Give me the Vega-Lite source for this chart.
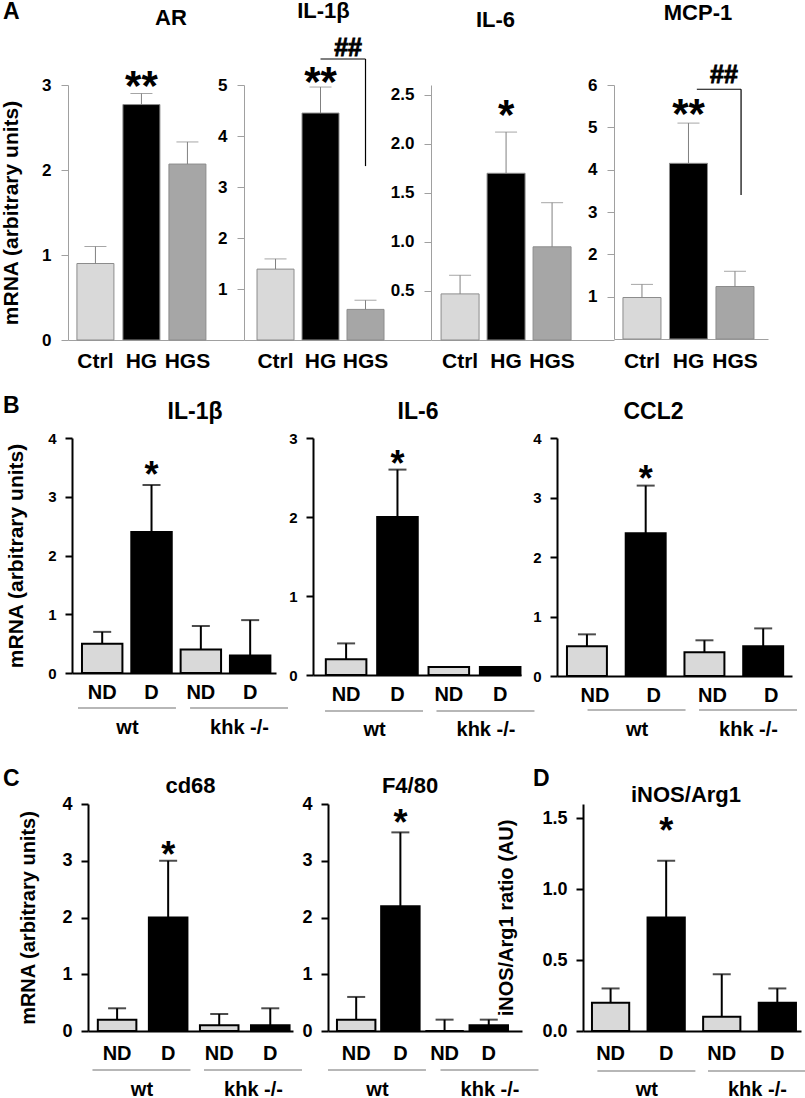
{
"$schema": "https://vega.github.io/schema/vega-lite/v6.json",
"autosize": {"type": "pad"},
"padding": {"top": 0, "left": 0, "right": 0, "bottom": 0},
"background": "white",
"config": {
  "font": "Liberation Sans",
  "view": {"stroke": null},
  "axis": {"grid": false, "labelFontWeight": "bold", "titleFontWeight": "bold", "labelColor": "#000", "titleColor": "#000", "labelFont": "Liberation Sans", "titleFont": "Liberation Sans"},
  "title": {"fontWeight": "bold", "color": "#000", "baseline": "alphabetic", "anchor": "middle", "frame": "group", "font": "Liberation Sans"}
},
"spacing": 0,
"bounds": "full",
"vconcat": [
{"spacing": 0, "bounds": "flush", "hconcat": [
  {"width": 65, "height": 255, "title": {"text": "A", "anchor": "start", "fontSize": 23, "dx": 0, "offset": 61}, "data": {"values": []}, "mark": "point"},
  {"width": 176, "height": 255,
   "title": {"text": "AR", "fontSize": 22, "dx": 15, "offset": 36},
   "data": {"values": [
     {"cond": "Ctrl", "value": 0.9, "err": 1.1, "sig": ""},
     {"cond": "HG", "value": 2.77, "err": 2.9, "sig": "**"},
     {"cond": "HGS", "value": 2.07, "err": 2.33, "sig": ""}]},
   "encoding": {"x": {"field": "cond", "type": "nominal", "title": null,
     "scale": {"domain": ["Ctrl", "HG", "HGS"], "paddingInner": 0.196, "paddingOuter": 0.511, "align": 0.19},
     "axis": {"domainColor": "#a0a0a0", "ticks": false, "tickSize": 0, "labelFontSize": 21, "labelPadding": 10, "labelAngle": 0}}},
   "layer": [
     {"mark": {"type": "bar", "stroke": "#8c8c8c", "strokeWidth": 1},
      "encoding": {"y": {"field": "value", "type": "quantitative", "title": "mRNA (arbitrary units)", "scale": {"domain": [0, 3]},
         "axis": {"values": [0, 1, 2, 3], "format": "d", "domainColor": "#a0a0a0", "tickColor": "#a0a0a0", "tickSize": 7, "labelFontSize": 17, "labelPadding": 10, "titleFontSize": 21, "titlePadding": 20}},
        "color": {"field": "cond", "type": "nominal", "scale": {"domain": ["Ctrl", "HG", "HGS"], "range": ["#d9d9d9", "#000000", "#a6a6a6"]}, "legend": null}}},
     {"mark": {"type": "rule", "color": "#808080", "strokeWidth": 1}, "encoding": {"y": {"field": "value", "type": "quantitative", "title": "mRNA (arbitrary units)"}, "y2": {"field": "err"}}},
     {"mark": {"type": "tick", "orient": "horizontal", "color": "#808080", "thickness": 1, "size": 22}, "encoding": {"y": {"field": "err", "type": "quantitative", "title": "mRNA (arbitrary units)"}}},
     {"mark": {"type": "text", "fontSize": 42, "fontWeight": "bold", "baseline": "alphabetic", "dy": 6}, "encoding": {"y": {"field": "err", "type": "quantitative", "title": "mRNA (arbitrary units)"}, "text": {"field": "sig"}}}
   ]},
  {"width": 187, "height": 255,
   "title": {"text": "IL-1β", "fontSize": 22, "dx": -14, "offset": 13},
   "data": {"values": [
     {"cond": "Ctrl", "value": 1.39, "err": 1.59, "sig": ""},
     {"cond": "HG", "value": 4.45, "err": 4.96, "sig": "**"},
     {"cond": "HGS", "value": 0.6, "err": 0.78, "sig": ""}]},
   "encoding": {"x": {"field": "cond", "type": "nominal", "title": null,
     "scale": {"domain": ["Ctrl", "HG", "HGS"], "paddingInner": 0.178, "paddingOuter": 0.667, "align": 0.217},
     "axis": {"domainColor": "#a0a0a0", "ticks": false, "tickSize": 0, "labelFontSize": 21, "labelPadding": 10, "labelAngle": 0}}},
   "layer": [
     {"mark": {"type": "bar", "stroke": "#8c8c8c", "strokeWidth": 1},
      "encoding": {"y": {"field": "value", "type": "quantitative", "title": null, "scale": {"domain": [0, 5]},
         "axis": {"values": [1, 2, 3, 4, 5], "format": "d", "domainColor": "#a0a0a0", "tickColor": "#a0a0a0", "tickSize": 7, "labelFontSize": 17, "labelPadding": 10}},
        "color": {"field": "cond", "type": "nominal", "scale": {"domain": ["Ctrl", "HG", "HGS"], "range": ["#d9d9d9", "#000000", "#a6a6a6"]}, "legend": null}}},
     {"mark": {"type": "rule", "color": "#808080", "strokeWidth": 1}, "encoding": {"y": {"field": "value", "type": "quantitative", "title": null}, "y2": {"field": "err"}}},
     {"mark": {"type": "tick", "orient": "horizontal", "color": "#808080", "thickness": 1, "size": 22}, "encoding": {"y": {"field": "err", "type": "quantitative", "title": null}}},
     {"mark": {"type": "text", "fontSize": 42, "fontWeight": "bold", "baseline": "alphabetic", "dy": 9}, "encoding": {"y": {"field": "err", "type": "quantitative", "title": null}, "text": {"field": "sig"}}},
     {"data": {"values": [{"from": "HG", "to": "HGS", "top": 5.51, "bottom": 3.41, "label": "##"}]},
      "layer": [
        {"mark": {"type": "rule", "color": "#000", "strokeWidth": 1.2}, "encoding": {"x": {"field": "from", "type": "nominal", "title": null, "bandPosition": 0.5}, "x2": {"field": "to", "bandPosition": 0.5}, "y": {"field": "top", "type": "quantitative", "title": null}}},
        {"mark": {"type": "rule", "color": "#000", "strokeWidth": 1.2}, "encoding": {"x": {"field": "to", "type": "nominal", "title": null, "bandPosition": 0.5}, "y": {"field": "top", "type": "quantitative", "title": null}, "y2": {"field": "bottom"}}},
        {"mark": {"type": "text", "fontSize": 25, "fontWeight": "bold", "stroke": "#000", "strokeWidth": 0.9, "baseline": "alphabetic", "align": "center", "dy": -2.5}, "encoding": {"x": {"field": "to", "type": "nominal", "title": null, "bandPosition": 0.03}, "y": {"field": "top", "type": "quantitative", "title": null}, "text": {"field": "label"}}}
      ]}
   ]},
  {"width": 183, "height": 255,
   "title": {"text": "IL-6", "fontSize": 22, "dx": -27, "offset": 53},
   "data": {"values": [
     {"cond": "Ctrl", "value": 0.47, "err": 0.66, "sig": ""},
     {"cond": "HG", "value": 1.7, "err": 2.12, "sig": "*"},
     {"cond": "HGS", "value": 0.95, "err": 1.4, "sig": ""}]},
   "encoding": {"x": {"field": "cond", "type": "nominal", "title": null,
     "scale": {"domain": ["Ctrl", "HG", "HGS"], "paddingInner": 0.174, "paddingOuter": 0.576, "align": 0.19},
     "axis": {"domainColor": "#a0a0a0", "ticks": false, "tickSize": 0, "labelFontSize": 21, "labelPadding": 10, "labelAngle": 0}}},
   "layer": [
     {"mark": {"type": "bar", "stroke": "#8c8c8c", "strokeWidth": 1},
      "encoding": {"y": {"field": "value", "type": "quantitative", "title": null, "scale": {"domain": [0, 2.5]},
         "axis": {"values": [0.5, 1, 1.5, 2, 2.5], "format": ".1f", "domainColor": "#a0a0a0", "tickColor": "#a0a0a0", "tickSize": 7, "labelFontSize": 17, "labelPadding": 10}},
        "color": {"field": "cond", "type": "nominal", "scale": {"domain": ["Ctrl", "HG", "HGS"], "range": ["#d9d9d9", "#000000", "#a6a6a6"]}, "legend": null}}},
     {"mark": {"type": "rule", "color": "#808080", "strokeWidth": 1}, "encoding": {"y": {"field": "value", "type": "quantitative", "title": null}, "y2": {"field": "err"}}},
     {"mark": {"type": "tick", "orient": "horizontal", "color": "#808080", "thickness": 1, "size": 22}, "encoding": {"y": {"field": "err", "type": "quantitative", "title": null}}},
     {"mark": {"type": "text", "fontSize": 42, "fontWeight": "bold", "baseline": "alphabetic", "dy": -3}, "encoding": {"y": {"field": "err", "type": "quantitative", "title": null}, "text": {"field": "sig"}}}
   ]},
  {"width": 154, "height": 254,
   "title": {"text": "MCP-1", "fontSize": 22, "dx": 7, "offset": 38},
   "data": {"values": [
     {"cond": "Ctrl", "value": 0.98, "err": 1.29, "sig": ""},
     {"cond": "HG", "value": 4.15, "err": 5.1, "sig": "**"},
     {"cond": "HGS", "value": 1.24, "err": 1.6, "sig": ""}]},
   "encoding": {"x": {"field": "cond", "type": "nominal", "title": null,
     "scale": {"domain": ["Ctrl", "HG", "HGS"], "paddingInner": 0.183, "paddingOuter": 0.247, "align": 0.39},
     "axis": {"domainColor": "#a0a0a0", "ticks": false, "tickSize": 0, "labelFontSize": 21, "labelPadding": 11, "labelAngle": 0}}},
   "layer": [
     {"mark": {"type": "bar", "stroke": "#8c8c8c", "strokeWidth": 1},
      "encoding": {"y": {"field": "value", "type": "quantitative", "title": null, "scale": {"domain": [0, 6]},
         "axis": {"values": [1, 2, 3, 4, 5, 6], "format": "d", "domainColor": "#a0a0a0", "tickColor": "#a0a0a0", "tickSize": 7, "labelFontSize": 17, "labelPadding": 10}},
        "color": {"field": "cond", "type": "nominal", "scale": {"domain": ["Ctrl", "HG", "HGS"], "range": ["#d9d9d9", "#000000", "#a6a6a6"]}, "legend": null}}},
     {"mark": {"type": "rule", "color": "#808080", "strokeWidth": 1}, "encoding": {"y": {"field": "value", "type": "quantitative", "title": null}, "y2": {"field": "err"}}},
     {"mark": {"type": "tick", "orient": "horizontal", "color": "#808080", "thickness": 1, "size": 22}, "encoding": {"y": {"field": "err", "type": "quantitative", "title": null}}},
     {"mark": {"type": "text", "fontSize": 42, "fontWeight": "bold", "baseline": "alphabetic", "dy": 5}, "encoding": {"y": {"field": "err", "type": "quantitative", "title": null}, "text": {"field": "sig"}}},
     {"data": {"values": [{"from": "HG", "to": "HGS", "top": 5.9, "bottom": 3.4, "label": "##"}]},
      "layer": [
        {"mark": {"type": "rule", "color": "#000", "strokeWidth": 1.2}, "encoding": {"x": {"field": "from", "type": "nominal", "title": null, "bandPosition": 0.72}, "x2": {"field": "to", "bandPosition": 0.66}, "y": {"field": "top", "type": "quantitative", "title": null}}},
        {"mark": {"type": "rule", "color": "#000", "strokeWidth": 1.2}, "encoding": {"x": {"field": "to", "type": "nominal", "title": null, "bandPosition": 0.66}, "y": {"field": "top", "type": "quantitative", "title": null}, "y2": {"field": "bottom"}}},
        {"mark": {"type": "text", "fontSize": 25, "fontWeight": "bold", "stroke": "#000", "strokeWidth": 0.9, "baseline": "alphabetic", "align": "center", "dy": -6}, "encoding": {"x": {"field": "to", "type": "nominal", "title": null, "bandPosition": 0.21}, "y": {"field": "top", "type": "quantitative", "title": null}, "text": {"field": "label"}}}
      ]}
   ]}
]},
{"width": 1, "height": 24, "data": {"values": []}, "mark": "point"},
{"spacing": 0, "bounds": "flush", "hconcat": [
  {"width": 69, "height": 239, "title": {"text": "B", "anchor": "start", "fontSize": 23, "dx": 0, "offset": 20}, "data": {"values": []}, "mark": "point"},
  {"width": 204, "height": 235,
   "title": {"text": "IL-1β", "fontSize": 23, "dx": 21, "offset": 7},
   "layer": [
     {"data": {"values": [
        {"cond": "wt|ND", "diet": "ND", "value": 0.5, "err": 0.7, "sig": ""},
        {"cond": "wt|D", "diet": "D", "value": 2.4, "err": 3.2, "sig": "*"},
        {"cond": "khk -/-|ND", "diet": "ND", "value": 0.4, "err": 0.8, "sig": ""},
        {"cond": "khk -/-|D", "diet": "D", "value": 0.3, "err": 0.9, "sig": ""}]},
      "encoding": {"x": {"field": "cond", "type": "nominal", "title": null,
        "scale": {"domain": ["wt|ND", "wt|D", "khk -/-|ND", "khk -/-|D"], "paddingInner": 0.18, "paddingOuter": 0.158, "align": 0.64},
        "axis": {"domainColor": "#000", "domainWidth": 2, "ticks": false, "tickSize": 0, "labelFontSize": 20, "labelPadding": 9, "labelAngle": 0, "labelExpr": "split(datum.label, '|')[1]"}}},
      "layer": [
        {"mark": {"type": "bar", "stroke": "#000", "strokeWidth": 2},
         "encoding": {"y": {"field": "value", "type": "quantitative", "title": "mRNA (arbitrary units)", "scale": {"domain": [0, 4]},
            "axis": {"values": [0, 1, 2, 3, 4], "format": "d", "domainColor": "#000", "domainWidth": 2, "tickColor": "#000", "tickWidth": 2, "tickSize": 7, "labelFontSize": 15, "labelPadding": 9, "titleFontSize": 21, "titlePadding": 21}},
           "color": {"field": "diet", "type": "nominal", "scale": {"domain": ["ND", "D"], "range": ["#d3d3d3", "#000000"]}, "legend": null}}},
        {"mark": {"type": "rule", "color": "#000", "strokeWidth": 2}, "encoding": {"y": {"field": "value", "type": "quantitative", "title": "mRNA (arbitrary units)"}, "y2": {"field": "err"}}},
        {"mark": {"type": "tick", "orient": "horizontal", "color": "#000", "thickness": 2, "size": 18}, "encoding": {"y": {"field": "err", "type": "quantitative", "title": "mRNA (arbitrary units)"}}},
        {"mark": {"type": "text", "fontSize": 36, "fontWeight": "bold", "baseline": "alphabetic", "dy": 2}, "encoding": {"y": {"field": "err", "type": "quantitative", "title": "mRNA (arbitrary units)"}, "text": {"field": "sig"}}}
      ]},
     {"data": {"values": [{"group": "wt"}, {"group": "khk -/-"}]},
      "mark": {"type": "tick", "orient": "horizontal", "color": "#333", "thickness": 1, "size": 98, "yOffset": 35},
      "encoding": {"x": {"field": "group", "type": "nominal", "title": null,
         "scale": {"type": "point", "domain": ["wt", "khk -/-"], "padding": 0.41, "align": 0.598},
         "axis": {"orient": "bottom", "domain": false, "ticks": false, "tickSize": 0, "labelFontSize": 20, "labelPadding": 44, "labelAngle": 0}},
        "y": {"datum": 0}}}
   ],
   "resolve": {"scale": {"x": "independent"}, "axis": {"x": "independent"}}},
  {"width": 37, "height": 1, "data": {"values": []}, "mark": "point"},
  {"width": 208, "height": 237,
   "title": {"text": "IL-6", "fontSize": 23, "dx": 1, "offset": 7},
   "layer": [
     {"data": {"values": [
        {"cond": "wt|ND", "diet": "ND", "value": 0.2, "err": 0.4, "sig": ""},
        {"cond": "wt|D", "diet": "D", "value": 2.0, "err": 2.6, "sig": "*"},
        {"cond": "khk -/-|ND", "diet": "ND", "value": 0.1, "err": null, "sig": ""},
        {"cond": "khk -/-|D", "diet": "D", "value": 0.1, "err": null, "sig": ""}]},
      "encoding": {"x": {"field": "cond", "type": "nominal", "title": null,
        "scale": {"domain": ["wt|ND", "wt|D", "khk -/-|ND", "khk -/-|D"], "paddingInner": 0.21, "paddingOuter": 0.13, "align": 0.96},
        "axis": {"domainColor": "#000", "domainWidth": 2, "ticks": false, "tickSize": 0, "labelFontSize": 20, "labelPadding": 9, "labelAngle": 0, "labelExpr": "split(datum.label, '|')[1]"}}},
      "layer": [
        {"mark": {"type": "bar", "stroke": "#000", "strokeWidth": 2},
         "encoding": {"y": {"field": "value", "type": "quantitative", "title": null, "scale": {"domain": [0, 3]},
            "axis": {"values": [0, 1, 2, 3], "format": "d", "domainColor": "#000", "domainWidth": 2, "tickColor": "#000", "tickWidth": 2, "tickSize": 7, "labelFontSize": 15, "labelPadding": 9}},
           "color": {"field": "diet", "type": "nominal", "scale": {"domain": ["ND", "D"], "range": ["#d3d3d3", "#000000"]}, "legend": null}}},
        {"mark": {"type": "rule", "color": "#000", "strokeWidth": 2}, "encoding": {"y": {"field": "value", "type": "quantitative", "title": null}, "y2": {"field": "err"}}},
        {"mark": {"type": "tick", "orient": "horizontal", "color": "#000", "thickness": 2, "size": 18}, "encoding": {"y": {"field": "err", "type": "quantitative", "title": null}}},
        {"mark": {"type": "text", "fontSize": 36, "fontWeight": "bold", "baseline": "alphabetic", "dy": 6}, "encoding": {"y": {"field": "err", "type": "quantitative", "title": null}, "text": {"field": "sig"}}}
      ]},
     {"data": {"values": [{"group": "wt"}, {"group": "khk -/-"}]},
      "mark": {"type": "tick", "orient": "horizontal", "color": "#333", "thickness": 1, "size": 98, "yOffset": 36},
      "encoding": {"x": {"field": "group", "type": "nominal", "title": null,
         "scale": {"type": "point", "domain": ["wt", "khk -/-"], "padding": 0.433, "align": 0.632},
         "axis": {"orient": "bottom", "domain": false, "ticks": false, "tickSize": 0, "labelFontSize": 20, "labelPadding": 44, "labelAngle": 0}},
        "y": {"datum": 0}}}
   ],
   "resolve": {"scale": {"x": "independent"}, "axis": {"x": "independent"}}},
  {"width": 36, "height": 1, "data": {"values": []}, "mark": "point"},
  {"width": 235, "height": 238,
   "title": {"text": "CCL2", "fontSize": 23, "dx": -21, "offset": 7},
   "layer": [
     {"data": {"values": [
        {"cond": "wt|ND", "diet": "ND", "value": 0.5, "err": 0.7, "sig": ""},
        {"cond": "wt|D", "diet": "D", "value": 2.4, "err": 3.2, "sig": "*"},
        {"cond": "khk -/-|ND", "diet": "ND", "value": 0.4, "err": 0.6, "sig": ""},
        {"cond": "khk -/-|D", "diet": "D", "value": 0.5, "err": 0.8, "sig": ""}]},
      "encoding": {"x": {"field": "cond", "type": "nominal", "title": null,
        "scale": {"domain": ["wt|ND", "wt|D", "khk -/-|ND", "khk -/-|D"], "paddingInner": 0.32, "paddingOuter": 0.16, "align": 0.53},
        "axis": {"domainColor": "#000", "domainWidth": 2, "ticks": false, "tickSize": 0, "labelFontSize": 20, "labelPadding": 9, "labelAngle": 0, "labelOffset": 8, "labelExpr": "split(datum.label, '|')[1]"}}},
      "layer": [
        {"mark": {"type": "bar", "stroke": "#000", "strokeWidth": 2},
         "encoding": {"y": {"field": "value", "type": "quantitative", "title": null, "scale": {"domain": [0, 4]},
            "axis": {"values": [0, 1, 2, 3, 4], "format": "d", "domainColor": "#000", "domainWidth": 2, "tickColor": "#000", "tickWidth": 2, "tickSize": 7, "labelFontSize": 15, "labelPadding": 9}},
           "color": {"field": "diet", "type": "nominal", "scale": {"domain": ["ND", "D"], "range": ["#d3d3d3", "#000000"]}, "legend": null}}},
        {"mark": {"type": "rule", "color": "#000", "strokeWidth": 2}, "encoding": {"y": {"field": "value", "type": "quantitative", "title": null}, "y2": {"field": "err"}}},
        {"mark": {"type": "tick", "orient": "horizontal", "color": "#000", "thickness": 2, "size": 18}, "encoding": {"y": {"field": "err", "type": "quantitative", "title": null}}},
        {"mark": {"type": "text", "fontSize": 36, "fontWeight": "bold", "baseline": "alphabetic", "dy": 5}, "encoding": {"y": {"field": "err", "type": "quantitative", "title": null}, "text": {"field": "sig"}}}
      ]},
     {"data": {"values": [{"group": "wt"}, {"group": "khk -/-"}]},
      "mark": {"type": "tick", "orient": "horizontal", "color": "#333", "thickness": 1, "size": 98, "yOffset": 34},
      "encoding": {"x": {"field": "group", "type": "nominal", "title": null,
         "scale": {"type": "point", "domain": ["wt", "khk -/-"], "padding": 0.554, "align": 0.644},
         "axis": {"orient": "bottom", "domain": false, "ticks": false, "tickSize": 0, "labelFontSize": 20, "labelPadding": 43, "labelAngle": 0}},
        "y": {"datum": 0}}}
   ],
   "resolve": {"scale": {"x": "independent"}, "axis": {"x": "independent"}}}
]},
{"width": 1, "height": 29, "data": {"values": []}, "mark": "point"},
{"spacing": 0, "bounds": "flush", "hconcat": [
  {"width": 85, "height": 227, "title": {"text": "C", "anchor": "start", "fontSize": 23, "dx": 0, "offset": 13}, "data": {"values": []}, "mark": "point"},
  {"width": 205, "height": 227,
   "title": {"text": "cd68", "fontSize": 22, "dx": 0, "offset": -3},
   "layer": [
     {"data": {"values": [
        {"cond": "wt|ND", "diet": "ND", "value": 0.2, "err": 0.4, "sig": ""},
        {"cond": "wt|D", "diet": "D", "value": 2.0, "err": 3.0, "sig": "*"},
        {"cond": "khk -/-|ND", "diet": "ND", "value": 0.1, "err": 0.3, "sig": ""},
        {"cond": "khk -/-|D", "diet": "D", "value": 0.1, "err": 0.4, "sig": ""}]},
      "encoding": {"x": {"field": "cond", "type": "nominal", "title": null,
        "scale": {"domain": ["wt|ND", "wt|D", "khk -/-|ND", "khk -/-|D"], "paddingInner": 0.245, "paddingOuter": 0.13, "align": 0.74},
        "axis": {"domainColor": "#000", "domainWidth": 2, "ticks": false, "tickSize": 0, "labelFontSize": 20, "labelPadding": 12, "labelAngle": 0, "labelExpr": "split(datum.label, '|')[1]"}}},
      "layer": [
        {"mark": {"type": "bar", "stroke": "#000", "strokeWidth": 2},
         "encoding": {"y": {"field": "value", "type": "quantitative", "title": "mRNA (arbitrary units)", "scale": {"domain": [0, 4]},
            "axis": {"values": [0, 1, 2, 3, 4], "format": "d", "domainColor": "#000", "domainWidth": 2, "tickColor": "#000", "tickWidth": 2, "tickSize": 7, "labelFontSize": 18, "labelPadding": 9, "titleFontSize": 20, "titlePadding": 23}},
           "color": {"field": "diet", "type": "nominal", "scale": {"domain": ["ND", "D"], "range": ["#d3d3d3", "#000000"]}, "legend": null}}},
        {"mark": {"type": "rule", "color": "#000", "strokeWidth": 2}, "encoding": {"y": {"field": "value", "type": "quantitative", "title": "mRNA (arbitrary units)"}, "y2": {"field": "err"}}},
        {"mark": {"type": "tick", "orient": "horizontal", "color": "#000", "thickness": 2, "size": 18}, "encoding": {"y": {"field": "err", "type": "quantitative", "title": "mRNA (arbitrary units)"}}},
        {"mark": {"type": "text", "fontSize": 36, "fontWeight": "bold", "baseline": "alphabetic", "dy": 6}, "encoding": {"y": {"field": "err", "type": "quantitative", "title": "mRNA (arbitrary units)"}, "text": {"field": "sig"}}}
      ]},
     {"data": {"values": [{"group": "wt"}, {"group": "khk -/-"}]},
      "mark": {"type": "tick", "orient": "horizontal", "color": "#333", "thickness": 1, "size": 98, "yOffset": 39},
      "encoding": {"x": {"field": "group", "type": "nominal", "title": null,
         "scale": {"type": "point", "domain": ["wt", "khk -/-"], "padding": 0.419, "align": 0.572},
         "axis": {"orient": "bottom", "domain": false, "ticks": false, "tickSize": 0, "labelFontSize": 20, "labelPadding": 48, "labelAngle": 0}},
        "y": {"datum": 0}}}
   ],
   "resolve": {"scale": {"x": "independent"}, "axis": {"x": "independent"}}},
  {"width": 35, "height": 1, "data": {"values": []}, "mark": "point"},
  {"width": 194, "height": 227,
   "title": {"text": "F4/80", "fontSize": 22, "dx": -15, "offset": -3},
   "layer": [
     {"data": {"values": [
        {"cond": "wt|ND", "diet": "ND", "value": 0.2, "err": 0.6, "sig": ""},
        {"cond": "wt|D", "diet": "D", "value": 2.2, "err": 3.5, "sig": "*"},
        {"cond": "khk -/-|ND", "diet": "ND", "value": 0.0, "err": 0.2, "sig": ""},
        {"cond": "khk -/-|D", "diet": "D", "value": 0.1, "err": 0.2, "sig": ""}]},
      "encoding": {"x": {"field": "cond", "type": "nominal", "title": null,
        "scale": {"domain": ["wt|ND", "wt|D", "khk -/-|ND", "khk -/-|D"], "paddingInner": 0.13, "paddingOuter": 0.26, "align": 0.39},
        "axis": {"domainColor": "#000", "domainWidth": 2, "ticks": false, "tickSize": 0, "labelFontSize": 20, "labelPadding": 12, "labelAngle": 0, "labelExpr": "split(datum.label, '|')[1]"}}},
      "layer": [
        {"mark": {"type": "bar", "stroke": "#000", "strokeWidth": 2},
         "encoding": {"y": {"field": "value", "type": "quantitative", "title": null, "scale": {"domain": [0, 4]},
            "axis": {"values": [0, 1, 2, 3, 4], "format": "d", "domainColor": "#000", "domainWidth": 2, "tickColor": "#000", "tickWidth": 2, "tickSize": 7, "labelFontSize": 18, "labelPadding": 9}},
           "color": {"field": "diet", "type": "nominal", "scale": {"domain": ["ND", "D"], "range": ["#d3d3d3", "#000000"]}, "legend": null}}},
        {"mark": {"type": "rule", "color": "#000", "strokeWidth": 2}, "encoding": {"y": {"field": "value", "type": "quantitative", "title": null}, "y2": {"field": "err"}}},
        {"mark": {"type": "tick", "orient": "horizontal", "color": "#000", "thickness": 2, "size": 18}, "encoding": {"y": {"field": "err", "type": "quantitative", "title": null}}},
        {"mark": {"type": "text", "fontSize": 36, "fontWeight": "bold", "baseline": "alphabetic", "dy": 3}, "encoding": {"y": {"field": "err", "type": "quantitative", "title": null}, "text": {"field": "sig"}}}
      ]},
     {"data": {"values": [{"group": "wt"}, {"group": "khk -/-"}]},
      "mark": {"type": "tick", "orient": "horizontal", "color": "#333", "thickness": 1, "size": 98, "yOffset": 39},
      "encoding": {"x": {"field": "group", "type": "nominal", "title": null,
         "scale": {"type": "point", "domain": ["wt", "khk -/-"], "padding": 0.362, "align": 0.601},
         "axis": {"orient": "bottom", "domain": false, "ticks": false, "tickSize": 0, "labelFontSize": 20, "labelPadding": 48, "labelAngle": 0}},
        "y": {"datum": 0}}}
   ],
   "resolve": {"scale": {"x": "independent"}, "axis": {"x": "independent"}}},
  {"width": 61, "height": 227, "title": {"text": "D", "anchor": "start", "fontSize": 23, "dx": 11, "offset": 13}, "data": {"values": []}, "mark": "point"},
  {"width": 218, "height": 227,
   "title": {"text": "iNOS/Arg1", "fontSize": 22, "dx": -6, "offset": -3},
   "layer": [
     {"data": {"values": [
        {"cond": "wt|ND", "diet": "ND", "value": 0.2, "err": 0.3, "sig": ""},
        {"cond": "wt|D", "diet": "D", "value": 0.8, "err": 1.2, "sig": "*"},
        {"cond": "khk -/-|ND", "diet": "ND", "value": 0.1, "err": 0.4, "sig": ""},
        {"cond": "khk -/-|D", "diet": "D", "value": 0.2, "err": 0.3, "sig": ""}]},
      "encoding": {"x": {"field": "cond", "type": "nominal", "title": null,
        "scale": {"domain": ["wt|ND", "wt|D", "khk -/-|ND", "khk -/-|D"], "paddingInner": 0.33, "paddingOuter": 0.126, "align": 0.64},
        "axis": {"domainColor": "#000", "domainWidth": 2, "ticks": false, "tickSize": 0, "labelFontSize": 20, "labelPadding": 12, "labelAngle": 0, "labelExpr": "split(datum.label, '|')[1]"}}},
      "layer": [
        {"mark": {"type": "bar", "stroke": "#000", "strokeWidth": 2},
         "encoding": {"y": {"field": "value", "type": "quantitative", "title": "iNOS/Arg1 ratio  (AU)", "scale": {"domain": [0, 1.5]},
            "axis": {"values": [0, 0.5, 1, 1.5], "format": ".1f", "domainColor": "#000", "domainWidth": 2, "tickColor": "#000", "tickWidth": 2, "tickSize": 7, "labelFontSize": 18, "labelPadding": 9, "titleFontSize": 20, "titlePadding": 25}},
           "color": {"field": "diet", "type": "nominal", "scale": {"domain": ["ND", "D"], "range": ["#d3d3d3", "#000000"]}, "legend": null}}},
        {"mark": {"type": "rule", "color": "#000", "strokeWidth": 2}, "encoding": {"y": {"field": "value", "type": "quantitative", "title": "iNOS/Arg1 ratio  (AU)"}, "y2": {"field": "err"}}},
        {"mark": {"type": "tick", "orient": "horizontal", "color": "#000", "thickness": 2, "size": 18}, "encoding": {"y": {"field": "err", "type": "quantitative", "title": "iNOS/Arg1 ratio  (AU)"}}},
        {"mark": {"type": "text", "fontSize": 36, "fontWeight": "bold", "baseline": "alphabetic", "dy": -18}, "encoding": {"y": {"field": "err", "type": "quantitative", "title": "iNOS/Arg1 ratio  (AU)"}, "text": {"field": "sig"}}}
      ]},
     {"data": {"values": [{"group": "wt"}, {"group": "khk -/-"}]},
      "mark": {"type": "tick", "orient": "horizontal", "color": "#333", "thickness": 1, "size": 98, "yOffset": 40},
      "encoding": {"x": {"field": "group", "type": "nominal", "title": null,
         "scale": {"type": "point", "domain": ["wt", "khk -/-"], "padding": 0.486, "align": 0.59},
         "axis": {"orient": "bottom", "domain": false, "ticks": false, "tickSize": 0, "labelFontSize": 20, "labelPadding": 48, "labelAngle": 0}},
        "y": {"datum": 0}}}
   ],
   "resolve": {"scale": {"x": "independent"}, "axis": {"x": "independent"}}}
]}
]
}
